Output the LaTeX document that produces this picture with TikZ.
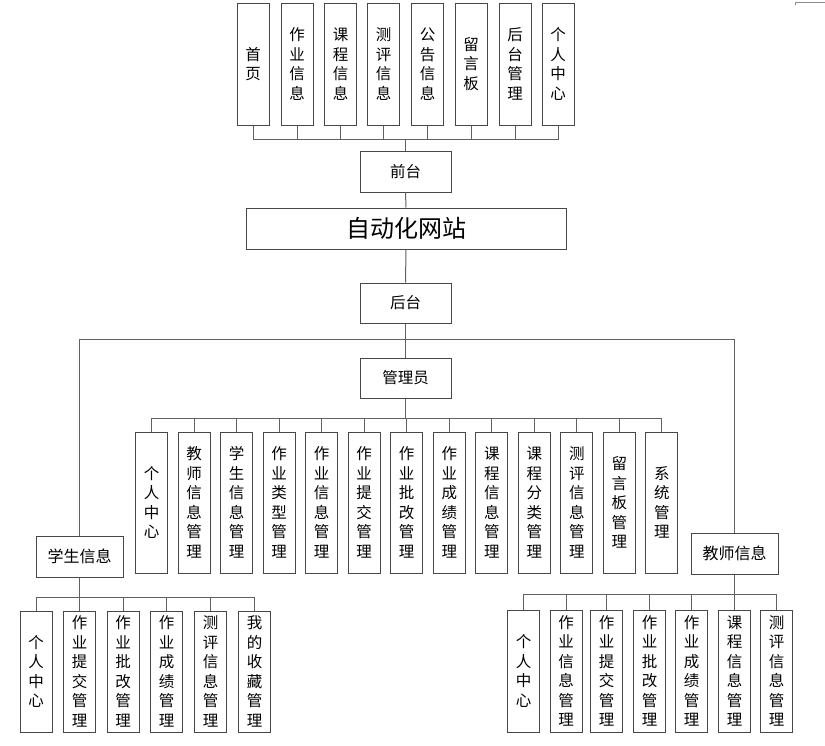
\documentclass[tikz,border=0pt]{standalone}
\usepackage{fontspec}
\setmainfont{Noto Sans CJK SC}
\begin{document}
\begin{tikzpicture}[x=1pt,y=-1pt,
  box/.style={draw=black!72,line width=1pt,fill=white,inner sep=0pt,align=center,font=\fontsize{15.5}{19.5}\selectfont},
  vbox/.style={box,minimum width=32pt},
  hbox/.style={box,minimum width=91pt,minimum height=40pt},
  conn/.style={draw=black!62,line width=1pt}]
\useasboundingbox (0,0) rectangle (825,745);
\draw[black!45,line width=0.8pt] (795,5) -- (795,2) -- (825,2);
% top
\foreach \i/\x/\t in {1/253/首\\页,2/297/作\\业\\信\\息,3/340.5/课\\程\\信\\息,4/383.5/测\\评\\信\\息,5/427.5/公\\告\\信\\息,6/471/留\\言\\板,7/515/后\\台\\管\\理,8/558/个\\人\\中\\心}
  \node[vbox,minimum height=122pt] (t\i) at (\x,64) {\t};
\node[hbox,minimum height=41pt] (qt) at (405.5,171.5) {前台};
\node[box,minimum width=320pt,minimum height=41pt,font=\fontsize{24}{28}\selectfont] (site) at (406,228.5) {自动化网站};
\node[hbox] (ht) at (405.5,303) {后台};
\node[hbox] (gly) at (405.5,378) {管理员};
\node[box,minimum width=87pt,minimum height=41pt,font=\fontsize{16}{20}\selectfont] (stu) at (79.5,556.5) {学生信息};
\node[box,minimum width=87pt,minimum height=41pt,font=\fontsize{16}{20}\selectfont] (tea) at (734.5,553.5) {教师信息};
% admin
\foreach \i/\t in {0/个\\人\\中\\心,1/教\\师\\信\\息\\管\\理,2/学\\生\\信\\息\\管\\理,3/作\\业\\类\\型\\管\\理,4/作\\业\\信\\息\\管\\理,5/作\\业\\提\\交\\管\\理,6/作\\业\\批\\改\\管\\理,7/作\\业\\成\\绩\\管\\理,8/课\\程\\信\\息\\管\\理,9/课\\程\\分\\类\\管\\理,10/测\\评\\信\\息\\管\\理,11/留\\言\\板\\管\\理,12/系\\统\\管\\理}
  \node[vbox,minimum height=141pt] (a\i) at (151.5+42.54*\i,502.5) {\t};
% student
\foreach \i/\x/\t in {1/36/个\\人\\中\\心,2/79.5/作\\业\\提\\交\\管\\理,3/123/作\\业\\批\\改\\管\\理,4/166.5/作\\业\\成\\绩\\管\\理,5/210.5/测\\评\\信\\息\\管\\理,6/254.5/我\\的\\收\\藏\\管\\理}
  \node[vbox,minimum height=121pt] (s\i) at (\x,671.5) {\t};
% teacher
\foreach \i/\x/\t in {1/523.5/个\\人\\中\\心,2/566/作\\业\\信\\息\\管\\理,3/606.5/作\\业\\提\\交\\管\\理,4/649.5/作\\业\\批\\改\\管\\理,5/691.5/作\\业\\成\\绩\\管\\理,6/734.5/课\\程\\信\\息\\管\\理,7/776.5/测\\评\\信\\息\\管\\理}
  \node[vbox,minimum height=122pt] (e\i) at (\x,671) {\t};
% connectors
\foreach \i in {1,...,8} \draw[conn] (t\i.south) -- ++(0,14) -| (qt.north);
\draw[conn] (qt.south) -- (site.north);
\draw[conn] (site.south) -- (ht.north);
\draw[conn] (ht.south) -- (gly.north);
\draw[conn] (ht.south) -- ++(0,16) -| (stu.north);
\draw[conn] (ht.south) -- ++(0,16) -| (tea.north);
\foreach \i in {0,...,12} \draw[conn] (gly.south) -- ++(0,20) -| (a\i.north);
\foreach \i in {1,...,6} \draw[conn] (stu.south) -- ++(0,20) -| (s\i.north);
\foreach \i in {1,...,7} \draw[conn] (tea.south) -- ++(0,20) -| (e\i.north);
\end{tikzpicture}
\end{document}
